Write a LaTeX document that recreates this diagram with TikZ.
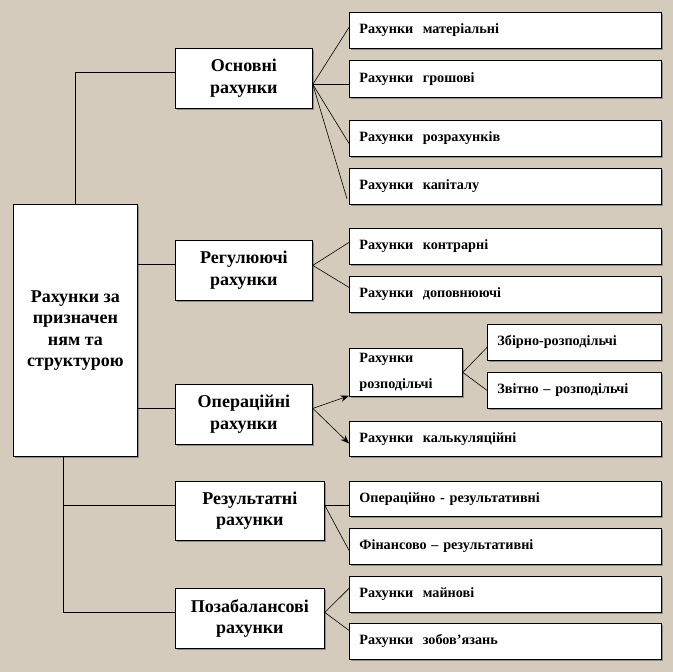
\documentclass[tikz,border=0pt]{standalone}
\usepackage{fontspec}
\setmainfont{Liberation Serif}
\usetikzlibrary{shadows,arrows.meta,calc}
\definecolor{bgtan}{RGB}{212,203,188}
\begin{document}
\begin{tikzpicture}[x=1pt,y=-1pt,
  box/.style={draw=black, fill=white, line width=0.8pt, inner sep=0pt, anchor=north west,
    drop shadow={shadow xshift=1.5pt,shadow yshift=-1.5pt,fill=black!45,opacity=1}},
  mbox/.style={box, align=center, font=\bfseries\fontsize{18}{21.5}\selectfont},
  rbox/.style={box, minimum height=36pt, inner xsep=10pt, align=left,
    font=\bfseries\fontsize{14.2}{15}\selectfont},
  link/.style={draw=black, line width=0.6pt},
  arr/.style={link, -{Stealth[length=8.5pt,width=6.5pt]}}
]
\fill[bgtan] (0,0) rectangle (673,672);
\useasboundingbox (0,0) rectangle (673,672);

% main
\node[mbox, minimum width=124pt, minimum height=252pt] (main) at (13,204)
  {Рахунки за\\призначен\\ням та\\структурою};

% level 2
\node[mbox, minimum width=137pt, minimum height=60pt] (osn) at (175,48) {Основні\\рахунки};
\node[mbox, minimum width=137pt, minimum height=60pt] (reg) at (175,240) {Регулюючі\\рахунки};
\node[mbox, minimum width=137pt, minimum height=60pt] (oper) at (175,384) {Операційні\\рахунки};
\node[mbox, minimum width=149pt, minimum height=59pt] (res) at (175,481) {Результатні\\рахунки};
\node[mbox, minimum width=149pt, minimum height=60pt] (poz) at (175,588) {Позабалансові\\рахунки};

% level 3
\node[rbox, minimum width=312pt, text width=292pt] (mat) at (349,12) {Рахунки\ \ матеріальні};
\node[rbox, minimum width=312pt, text width=292pt, minimum height=37pt] (grosh) at (349,60) {Рахунки\ \ грошові};
\node[rbox, minimum width=312pt, text width=292pt] (rozr) at (349,120) {Рахунки\ \ розрахунків};
\node[rbox, minimum width=312pt, text width=292pt] (kap) at (349,168) {Рахунки\ \ капіталу};
\node[rbox, minimum width=312pt, text width=292pt] (kontr) at (349,228) {Рахунки\ \ контрарні};
\node[rbox, minimum width=312pt, text width=292pt] (dop) at (349,276) {Рахунки\ \ доповнюючі};
\node[rbox, minimum width=113pt, text width=93pt, minimum height=48pt,
  font=\bfseries\fontsize{14.2}{26}\selectfont] (rozp) at (349,348) {Рахунки\\розподільчі};
\node[rbox, minimum width=174pt, text width=154pt] (zbir) at (487,324) {Збірно-розподільчі};
\node[rbox, minimum width=174pt, text width=154pt] (zvit) at (487,372) {Звітно -- розподільчі};
\node[rbox, minimum width=312pt, text width=292pt, minimum height=35pt] (kalk) at (349,421) {Рахунки\ \ калькуляційні};
\node[rbox, minimum width=312pt, text width=292pt, minimum height=35pt] (opres) at (349,481) {Операційно - результативні};
\node[rbox, minimum width=312pt, text width=292pt] (fin) at (349,528) {Фінансово -- результативні};
\node[rbox, minimum width=312pt, text width=292pt] (main2) at (349,576) {Рахунки\ \ майнові};
\node[rbox, minimum width=312pt, text width=292pt] (zob) at (349,623) {Рахунки\ \ зобов’язань};

% connectors from main
\draw[link] (main.north) |- ($(osn.west)+(0,-6)$);
\draw[link] (main.east |- reg.west) ++(0,-6) -- ($(reg.west)+(0,-6)$);
\draw[link] (main.east |- oper.west) ++(0,-6) -- ($(oper.west)+(0,-6)$);
\coordinate (mb) at ($(main.south west)!0.4!(main.south east)$);
\draw[link] (mb) |- ($(res.west)+(0,-6)$);
\draw[link] (mb) |- ($(poz.west)+(0,-6)$);

% fan-outs
\coordinate (osnR) at ($(osn.east)+(0,6)$);
\draw[link] (osnR) -- ($(mat.west)+(0,-3)$);
\draw[link] (osnR) -- ($(grosh.west)+(0,5.5)$);
\draw[link] (osnR) -- ($(rozr.west)+(0,5)$);
\draw[link] (osnR) -- ($(kap.south west)+(-2,-6)$);

\coordinate (regR) at ($(reg.east)+(0,-5)$);
\draw[link] (regR) -- ($(kontr.west)+(0,-4)$);
\draw[link] (regR) -- ($(dop.west)+(0,-7)$);

\coordinate (operR) at ($(oper.east)+(0,-6)$);
\draw[arr] (operR) -- ($(rozp.south west)+(0,-1)$);
\draw[arr] (operR) -- ($(kalk.west)+(0,4.5)$);

\coordinate (rozpR) at ($(rozp.east)+(0,0)$);
\draw[link] (rozpR) -- ($(zbir.west)+(0,5)$);
\draw[link] (rozpR) -- ($(zvit.west)+(0,0)$);

\coordinate (resR) at ($(res.east)+(0,-5.5)$);
\draw[link] (resR) -- (resR -| opres.west);
\draw[link] (resR) -- ($(fin.west)+(0,4)$);

\coordinate (pozR) at ($(poz.east)+(0,-6)$);
\draw[link] (pozR) -- ($(main2.west)+(0,-6)$);
\draw[link] (pozR) -- ($(zob.west)+(0,-11)$);
\end{tikzpicture}
\end{document}
